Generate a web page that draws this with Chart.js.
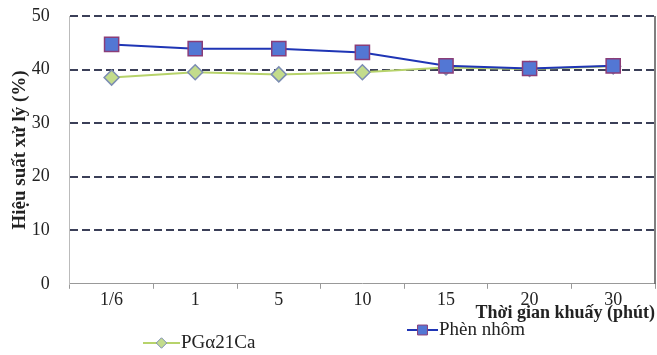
<!DOCTYPE html>
<html>
<head>
<meta charset="utf-8">
<script src="https://cdn.jsdelivr.net/npm/chart.js@4.4.1/dist/chart.umd.min.js"></script>
<style>
  html, body { margin: 0; padding: 0; background: #fff; }
</style>
</head>
<body>
<canvas id="chart" width="657" height="355"></canvas>
<script>
// data
const categories = ["1/6", "1", "5", "10", "15", "20", "30"];
const pgValues = [38.5, 39.5, 39.1, 39.5, 40.4, 40.1, 40.6];
const phenValues = [44.7, 43.9, 43.9, 43.2, 40.7, 40.2, 40.7];
const yTicks = [0, 10, 20, 30, 40, 50];

const serif = "'Liberation Serif', 'DejaVu Serif', serif";

// legend items are placed like in the scan, on two different rows
const legendPlugin = {
  id: "scanLegend",
  afterDraw(chart) {
    const ctx = chart.ctx;
    const spots = [
      { x: 143, y: 343, w: 37 },
      { x: 407, y: 330, w: 31 },
    ];
    chart.data.datasets.forEach((ds, i) => {
      const p = spots[i];
      ctx.save();
      ctx.strokeStyle = ds.borderColor;
      ctx.lineWidth = 2;
      ctx.beginPath();
      ctx.moveTo(p.x, p.y);
      ctx.lineTo(p.x + p.w, p.y);
      ctx.stroke();
      ctx.fillStyle = ds.pointBackgroundColor;
      ctx.strokeStyle = ds.pointBorderColor;
      ctx.lineWidth = 1;
      Chart.helpers.drawPoint(ctx, {
        pointStyle: ds.pointStyle,
        radius: ds.pointRadius * 0.7,
        borderWidth: 1,
      }, p.x + p.w / 2, p.y);
      ctx.fillStyle = "#222";
      ctx.font = "19px " + serif;
      ctx.textBaseline = "middle";
      ctx.textAlign = "left";
      ctx.fillText(ds.label, p.x + p.w + 1, p.y);
      ctx.restore();
    });
  },
};

// thin frame line on the right side of the plot
const frameRight = {
  id: "frameRight",
  afterDatasetsDraw(chart) {
    const { ctx, chartArea } = chart;
    ctx.save();
    ctx.strokeStyle = "#555";
    ctx.lineWidth = 1.5;
    ctx.beginPath();
    ctx.moveTo(chartArea.right, chartArea.top);
    ctx.lineTo(chartArea.right, chartArea.bottom);
    ctx.stroke();
    ctx.restore();
  },
};

const ctx = document.getElementById("chart").getContext("2d");
const chart = new Chart(ctx, {
  type: "line",
  data: {
    labels: categories,
    datasets: [
      {
        label: "PGα21Ca",
        data: pgValues,
        order: 1, // drawn under the blue series
        borderColor: "#b7d36b",
        borderWidth: 2,
        pointStyle: "rectRot",
        pointRadius: 7.5,
        pointBackgroundColor: "#c3dc8c",
        pointBorderColor: "#7c8db3",
        pointBorderWidth: 1.5,
        fill: false,
      },
      {
        label: "Phèn nhôm",
        data: phenValues,
        order: 0,
        borderColor: "#1f35b5",
        borderWidth: 2,
        pointStyle: "rect",
        pointRadius: 10,
        pointBackgroundColor: "#5377d4",
        pointBorderColor: "#8a3d78",
        pointBorderWidth: 1.5,
        fill: false,
      },
    ],
  },
  options: {
    responsive: false,
    animation: false,
    layout: {
      autoPadding: false,
      padding: { left: 3, right: 2, top: 16, bottom: 31 },
    },
    plugins: {
      legend: { display: false },
      tooltip: { enabled: false },
    },
    scales: {
      x: {
        offset: true,
        grid: {
          display: true,
          drawOnChartArea: false,
          drawTicks: true,
          tickLength: 5,
          offset: true,
          color: "#999",
        },
        border: { color: "#999", width: 1 },
        ticks: {
          color: "#222",
          padding: 1,
          font: { family: serif, size: 18 },
        },
        title: {
          display: true,
          text: "Thời gian khuấy (phút)",
          align: "end",
          color: "#222",
          padding: { top: -10, bottom: 0 },
          font: { family: serif, size: 18, weight: "bold" },
        },
      },
      y: {
        min: 0,
        max: 50,
        afterBuildTicks: (axis) => {
          axis.ticks = yTicks.map((v) => ({ value: v }));
        },
        grid: {
          drawTicks: true,
          tickLength: 18,
          tickColor: "rgba(0,0,0,0)",
          lineWidth: 2,
          color: (c) => (c.tick && c.tick.value === 0 ? "rgba(0,0,0,0)" : "#3b3f58"),
        },
        border: { color: "#bbb", width: 1, dash: [8, 4], display: true },
        ticks: {
          color: "#222",
          padding: 2,
          font: { family: serif, size: 18 },
        },
        title: {
          display: true,
          text: "Hiệu suất xử lý (%)",
          color: "#222",
          padding: { top: 6, bottom: -2 },
          font: { family: serif, size: 19, weight: "bold" },
        },
      },
    },
  },
  plugins: [legendPlugin, frameRight],
});
</script>
</body>
</html>
